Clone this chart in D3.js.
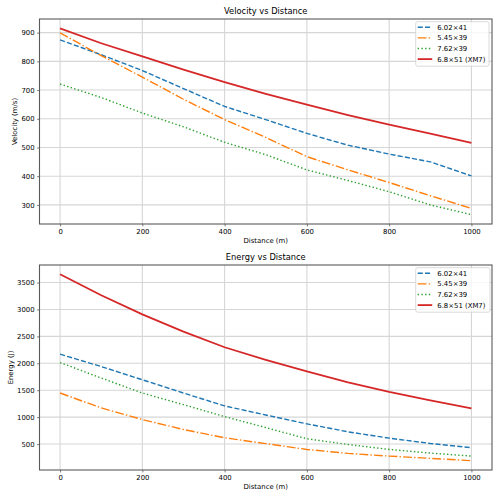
<!DOCTYPE html>
<html>
<head>
<meta charset="utf-8">
<script src="https://cdn.jsdelivr.net/npm/d3@7"></script>
<style>
  body { margin: 0; background: #fff; }
  text { font-family: "DejaVu Sans", sans-serif; fill: #000; }
</style>
</head>
<body>
<div class="chart"></div>
<script>
const distance = [0, 100, 200, 300, 400, 500, 600, 700, 800, 900, 1000];

const velocity602 = [875, 823, 768, 705, 643, 597, 549, 508, 477, 450, 401];
const velocity545 = [899, 820, 745, 668, 597, 535, 468, 422, 378, 332, 288];
const velocity762 = [721, 674, 620, 572, 518, 475, 422, 385, 346, 300, 266];
const velocity68 = [915, 863, 817, 771, 728, 687, 649, 613, 580, 548, 516];

const energy602 = [2169, 1940, 1694, 1448, 1208, 1040, 875, 727, 609, 511, 431];
const energy545 = [1448, 1171, 955, 770, 616, 508, 400, 326, 276, 234, 191];
const energy762 = [2014, 1726, 1448, 1232, 1010, 806, 598, 492, 400, 332, 276];
const energy68 = [3653, 3265, 2908, 2587, 2298, 2064, 1848, 1645, 1467, 1312, 1164];

const labels = ['6.02×41', '5.45×39', '7.62×39', '6.8×51 (XM7)'];
const colors = ['#1f77b4', '#ff7f0e', '#2ca02c', '#d62728'];
const dashes = ['5.1,2.2', '8.8,2.2,1.4,2.2', '1.4,2.3', null];
const widths = [1.4, 1.4, 1.4, 1.8];

const xTicks = [0, 200, 400, 600, 800, 1000];
const velTicks = [300, 400, 500, 600, 700, 800, 900];
const energyTicks = [500, 1000, 1500, 2000, 2500, 3000, 3500];

const W = 500, H = 500;
const left = 39.5, right = 492;

let svg = d3.select('.chart').append('svg')
    .attr('width', W)
    .attr('height', H);

function pad(ext) {
    const p = (ext[1] - ext[0]) * 0.05;
    return [ext[0] - p, ext[1] + p];
}

function panel(cfg) {
    const x = d3.scaleLinear()
        .domain(pad(d3.extent(distance)))
        .range([left, right]);
    const y = d3.scaleLinear()
        .domain(pad(d3.extent(cfg.series.flat())))
        .range([cfg.bottom, cfg.top]);

    const g = svg.append('g');

    // grid
    g.append('g').selectAll('line')
        .data(xTicks).enter().append('line')
        .attr('x1', d => x(d)).attr('x2', d => x(d))
        .attr('y1', cfg.top).attr('y2', cfg.bottom)
        .attr('stroke', '#d6d6d6').attr('stroke-width', 1.1);
    g.append('g').selectAll('line')
        .data(cfg.ticks).enter().append('line')
        .attr('x1', left).attr('x2', right)
        .attr('y1', d => y(d)).attr('y2', d => y(d))
        .attr('stroke', '#d6d6d6').attr('stroke-width', 1.1);

    // axes
    let X = g.append('g')
        .attr('transform', `translate(0, ${cfg.bottom})`)
        .call(d3.axisBottom(x).tickValues(xTicks).tickFormat(d3.format('d'))
            .tickSize(2.4).tickPadding(2.5));
    X.select('.domain').remove();
    X.selectAll('text').attr('font-size', 6.9).attr('font-family', 'DejaVu Sans');
    X.selectAll('line').attr('stroke', '#222').attr('stroke-width', 0.6);

    let Y = g.append('g')
        .attr('transform', `translate(${left}, 0)`)
        .call(d3.axisLeft(y).tickValues(cfg.ticks).tickFormat(d3.format('d'))
            .tickSize(2.4).tickPadding(2.5));
    Y.select('.domain').remove();
    Y.selectAll('text').attr('font-size', 6.9).attr('font-family', 'DejaVu Sans');
    Y.selectAll('line').attr('stroke', '#222').attr('stroke-width', 0.6);

    // lines
    const line = d3.line()
        .x((d, i) => x(distance[i]))
        .y(d => y(d));

    cfg.series.forEach((s, k) => {
        g.append('path')
            .datum(s)
            .attr('d', line)
            .attr('fill', 'none')
            .attr('stroke', colors[k])
            .attr('stroke-width', widths[k])
            .attr('stroke-dasharray', dashes[k]);
    });

    // frame
    g.append('rect')
        .attr('x', left).attr('y', cfg.top)
        .attr('width', right - left).attr('height', cfg.bottom - cfg.top)
        .attr('fill', 'none')
        .attr('stroke', '#5a5a5a')
        .attr('stroke-width', 1.1);

    // titles
    g.append('text')
        .attr('x', (left + right) / 2)
        .attr('y', cfg.top - 5)
        .attr('text-anchor', 'middle')
        .attr('font-size', 8.3)
        .text(cfg.title);

    g.append('text')
        .attr('x', (left + right) / 2)
        .attr('y', cfg.bottom + 19.3)
        .attr('text-anchor', 'middle')
        .attr('font-size', 6.9)
        .text('Distance (m)');

    g.append('text')
        .attr('transform', `translate(${cfg.ylabelX}, ${(cfg.top + cfg.bottom) / 2}) rotate(-90)`)
        .attr('text-anchor', 'middle')
        .attr('font-size', 6.9)
        .text(cfg.ylabel);

    // legend
    const lx = 415.7, ly = cfg.top + 2.7;
    const lg = g.append('g').attr('transform', `translate(${lx}, ${ly})`);
    lg.append('rect')
        .attr('width', cfg.legendW).attr('height', 44.5)
        .attr('rx', 2).attr('ry', 2)
        .attr('fill', 'white').attr('fill-opacity', 0.8)
        .attr('stroke', '#d0d0d0').attr('stroke-width', 0.8);
    const item = lg.selectAll('g.item')
        .data(labels).enter().append('g')
        .attr('class', 'item')
        .attr('transform', (d, i) => `translate(0, ${5.6 + i * 10.6})`);
    item.append('line')
        .attr('x1', 2).attr('x2', 16.5)
        .attr('stroke', (d, i) => colors[i])
        .attr('stroke-width', (d, i) => widths[i])
        .attr('stroke-dasharray', (d, i) => dashes[i]);
    item.append('text')
        .attr('x', 21.6)
        .attr('dy', '0.35em')
        .attr('font-size', 6.9)
        .text(d => d);
}

panel({
    top: 19, bottom: 224,
    series: [velocity602, velocity545, velocity762, velocity68],
    ticks: velTicks,
    title: 'Velocity vs Distance',
    ylabel: 'Velocity (m/s)',
    ylabelX: 17,
    legendW: 73.3
});

panel({
    top: 265, bottom: 470,
    series: [energy602, energy545, energy762, energy68],
    ticks: energyTicks,
    title: 'Energy vs Distance',
    ylabel: 'Energy (J)',
    ylabelX: 13,
    legendW: 74.3
});
</script>
</body>
</html>
